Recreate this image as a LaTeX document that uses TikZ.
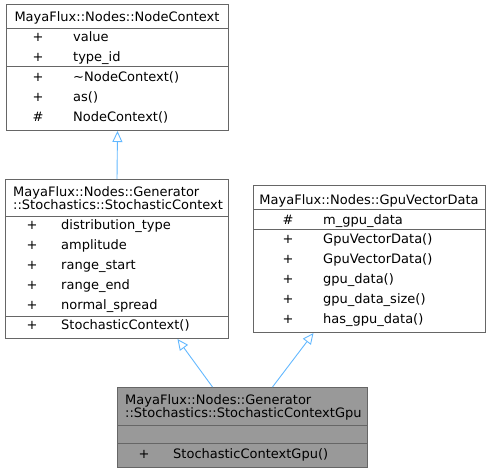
\documentclass[tikz,border=0pt]{standalone}
\usepackage{fontspec}
\setmainfont{DejaVu Sans}
\usetikzlibrary{arrows.meta,positioning}
\definecolor{frame}{HTML}{666666}
\definecolor{inhblue}{HTML}{63B8FF}
\definecolor{curfill}{HTML}{999999}
\begin{document}
\begin{tikzpicture}[x=1pt,y=-1pt,font=\fontsize{13}{13}\selectfont]
\tikzstyle{cls}=[draw=frame,line width=1pt,anchor=north west,inner sep=0pt]
\tikzstyle{sep}=[draw=frame,line width=1pt]
\tikzstyle{t}=[anchor=base west,inner sep=0pt,align=left]
\tikzstyle{v}=[anchor=base,inner sep=0pt]
\tikzstyle{inh}=[draw=inhblue,line width=0.9pt,-{Triangle[open,length=11pt,width=10pt]}]
\useasboundingbox (0,0) rectangle (491,472);
% NodeContext
\node[cls,minimum width=222pt,minimum height=126pt] (ctx) at (6,4) {};
\node[v] (ctxname) at (117,21) {MayaFlux::Nodes::NodeContext};
\draw[sep] (6,28) -- (228,28); \draw[sep] (6,66) -- (228,66);
\foreach \y/\s/\m [count=\i] in {41/+/value,61/+/type\_id,81/+/\textasciitilde NodeContext(),101/+/as(),121/\#/NodeContext()} {
 \node[v] (ctxs\i) at (38,\y) {\s}; \node[t] (ctxm\i) at (73,\y) {\m};
}
% StochasticContext
\node[cls,minimum width=223pt,minimum height=159pt] (sto) at (5,179) {};
\node[t] (stoname) at (13,209) {MayaFlux::Nodes::Generator\\::Stochastics::StochasticContext};
\draw[sep] (5,216) -- (228,216); \draw[sep] (5,316) -- (228,316);
\foreach \y/\s/\m [count=\i] in {229/+/distribution\_type,249/+/amplitude,269/+/range\_start,289/+/range\_end,309/+/normal\_spread,329/+/StochasticContext()} {
 \node[v] (stos\i) at (32,\y) {\s}; \node[t] (stom\i) at (61,\y) {\m};
}
% GpuVectorData
\node[cls,minimum width=232pt,minimum height=147pt] (vec) at (253,185) {};
\node[v] (vecname) at (369,204) {MayaFlux::Nodes::GpuVectorData};
\draw[sep] (253,209) -- (485,209); \draw[sep] (253,229) -- (485,229);
\foreach \y/\s/\m [count=\i] in {224/\#/m\_gpu\_data,243/+/GpuVectorData(),263/+/GpuVectorData(),283/+/gpu\_data(),303/+/gpu\_data\_size(),323/+/has\_gpu\_data()} {
 \node[v] (vecs\i) at (288,\y) {\s}; \node[t] (vecm\i) at (323,\y) {\m};
}
% StochasticContextGpu
\node[cls,fill=curfill,minimum width=250pt,minimum height=80pt] (gpu) at (117,387) {};
\node[t] (gpuname) at (125,417) {MayaFlux::Nodes::Generator\\::Stochastics::StochasticContextGpu};
\draw[sep] (117,425) -- (367,425); \draw[sep] (117,443) -- (367,443);
\node[v] (gpus1) at (144,458) {+}; \node[t] (gpum1) at (173,458) {StochasticContextGpu()};
% inheritance
\draw[inh] (sto.north) -- (ctx.south);
\draw[inh] ([xshift=-30pt]gpu.north) -- ([xshift=60.5pt]sto.south);
\draw[inh] ([xshift=30pt]gpu.north) -- ([xshift=-56pt]vec.south);
\end{tikzpicture}
\end{document}
